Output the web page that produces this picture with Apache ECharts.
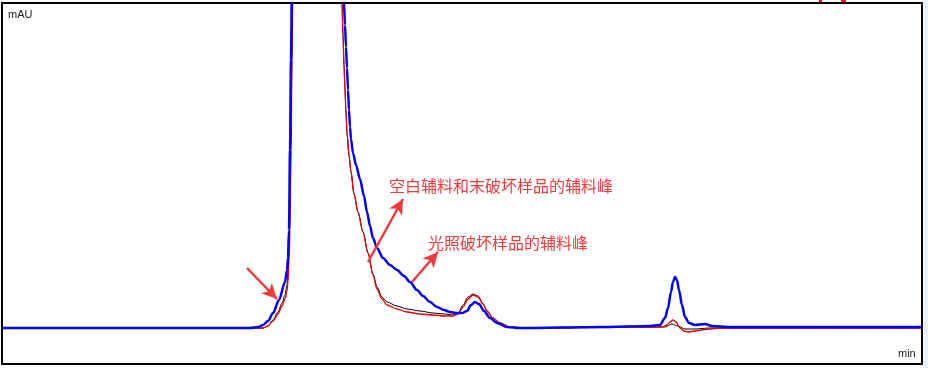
<!DOCTYPE html>
<html>
<head>
<meta charset="utf-8">
<style>
  html, body { margin: 0; padding: 0; background: #ffffff; }
  #chart { width: 928px; height: 368px; }
</style>
<script src="https://cdn.jsdelivr.net/npm/echarts@6/dist/echarts.min.js"></script>
</head>
<body>
<div id="chart"></div>
<script>
// Time (min) / absorbance (mAU) pairs
const blackTrace = [
  [0, 0], [2.48, 0], [2.61, 0], [2.66, 2], [2.71, 8], [2.76, 16], [2.80, 25], [2.83, 33],
  [2.85, 43], [2.86, 56], [2.87, 78], [2.88, 118], [2.89, 188], [2.90, 278], [2.91, 360],
  [2.95, 720], [3.05, 1500], [3.16, 1850], [3.30, 1200], [3.38, 500], [3.40, 325],
  [3.41, 293], [3.42, 263], [3.43, 238], [3.44, 215], [3.45, 195], [3.47, 173], [3.49, 156],
  [3.52, 134], [3.56, 116], [3.61, 96], [3.66, 75], [3.71, 54], [3.75, 41], [3.80, 31],
  [3.85, 26], [3.95, 22], [4.05, 19], [4.18, 17], [4.31, 15], [4.43, 14], [4.51, 13],
  [4.56, 15], [4.61, 23], [4.66, 31], [4.71, 34], [4.76, 32], [4.81, 24], [4.85, 17],
  [4.91, 10], [4.98, 5], [5.08, 1], [5.18, 0], [6.48, 1], [6.63, 1], [6.70, 4], [6.76, 2],
  [6.83, -1], [6.93, -1], [7.08, 0], [9.20, 0]
];
const redTrace = [
  [0, 0], [2.53, 0], [2.61, 0], [2.66, 2], [2.71, 7], [2.76, 14], [2.80, 22], [2.83, 29],
  [2.85, 37], [2.86, 46], [2.87, 66], [2.88, 98], [2.89, 178], [2.90, 268], [2.91, 348],
  [2.95, 700], [3.05, 1500], [3.16, 1850], [3.30, 1200], [3.38, 500], [3.40, 325],
  [3.41, 293], [3.42, 263], [3.43, 238], [3.44, 215], [3.45, 195], [3.47, 173], [3.49, 156],
  [3.52, 134], [3.56, 116], [3.61, 96], [3.66, 75], [3.71, 53], [3.75, 39], [3.80, 29],
  [3.85, 23], [3.95, 19], [4.05, 16], [4.18, 14], [4.31, 13], [4.43, 12], [4.51, 12],
  [4.56, 14], [4.61, 21], [4.66, 29], [4.71, 33], [4.76, 31], [4.81, 24], [4.85, 17],
  [4.91, 10], [4.98, 5], [5.08, 1], [5.18, 0], [6.48, 1], [6.60, 1], [6.65, 3], [6.68, 6],
  [6.71, 8], [6.74, 6], [6.78, 0], [6.82, -3], [6.86, -4], [6.93, -3], [7.03, -1.5],
  [7.18, 0], [9.20, 0]
];
const blueTrace = [
  [0, 0], [2.48, 0], [2.56, 1], [2.61, 3], [2.66, 7], [2.71, 15], [2.77, 28], [2.83, 46],
  [2.85, 58], [2.86, 70], [2.87, 98], [2.88, 178], [2.89, 268], [2.90, 348], [2.93, 628],
  [3.03, 1400], [3.16, 1800], [3.30, 1200], [3.38, 600], [3.41, 368], [3.42, 325],
  [3.43, 303], [3.44, 281], [3.45, 260], [3.46, 238], [3.47, 218], [3.48, 201], [3.49, 189],
  [3.51, 175], [3.54, 163], [3.58, 149], [3.62, 132], [3.65, 116], [3.68, 102], [3.71, 90],
  [3.75, 80], [3.81, 70], [3.88, 63], [3.95, 58], [4.02, 52], [4.08, 46], [4.15, 38],
  [4.21, 32], [4.28, 26], [4.35, 21], [4.42, 18], [4.48, 16], [4.54, 15], [4.60, 15],
  [4.65, 17], [4.69, 23], [4.73, 26], [4.77, 24], [4.82, 17], [4.88, 10], [4.95, 5],
  [5.05, 1], [5.18, 0], [5.98, 1], [6.48, 2], [6.58, 3], [6.63, 10], [6.66, 20], [6.69, 36],
  [6.71, 46], [6.73, 51], [6.75, 48], [6.77, 38], [6.80, 23], [6.83, 11], [6.87, 5],
  [6.93, 3], [7.03, 4], [7.10, 2], [7.28, 1], [9.20, 1]
];
// Annotation arrows: [startTime, startValue, endTime, endValue]
const arrows = [
  [2.45, 60, 2.75, 29],
  [3.66, 66, 4.01, 129],
  [4.10, 46, 4.36, 76]
];
const labels = ['空白辅料和末破坏样品的辅料峰', '光照破坏样品的辅料峰'];
const axisNames = ['mAU', 'min'];

const arrowColor = '#f23a3a';
const chart = echarts.init(document.getElementById('chart'), null, { renderer: 'canvas' });

chart.setOption({
  animation: false,
  backgroundColor: '#ffffff',
  grid: {
    left: 2, right: 6, top: 3, bottom: 4,
    show: true, borderColor: '#000000', borderWidth: 2, backgroundColor: '#ffffff'
  },
  xAxis: {
    type: 'value', min: 0, max: 9.2,
    axisLine: { show: false }, axisTick: { show: false },
    axisLabel: { show: false }, splitLine: { show: false }
  },
  yAxis: {
    type: 'value', min: -36, max: 325,
    axisLine: { show: false }, axisTick: { show: false },
    axisLabel: { show: false }, splitLine: { show: false }
  },
  series: [
    {
      type: 'line', data: blackTrace, showSymbol: false, smooth: 0.3, smoothMonotone: 'x',
      lineStyle: { color: '#000000', width: 1 }, silent: true
    },
    {
      type: 'line', data: redTrace, showSymbol: false, smooth: 0.3, smoothMonotone: 'x',
      lineStyle: { color: '#e80000', width: 1.3 }, silent: true
    },
    {
      type: 'line', data: blueTrace, showSymbol: false, smooth: 0.3, smoothMonotone: 'x',
      lineStyle: { color: '#0000ff', width: 2.5 }, silent: true, z: 3,
      markLine: {
        silent: true,
        animation: false,
        symbol: ['none', 'arrow'],
        symbolSize: [11, 15],
        label: { show: false },
        lineStyle: { color: arrowColor, width: 2.5, type: 'solid' },
        emphasis: { disabled: true },
        data: arrows.map(a => [{ coord: [a[0], a[1]] }, { coord: [a[2], a[3]] }])
      }
    }
  ],
  graphic: [
    { type: 'rect', left: 924, top: 0, shape: { width: 4, height: 368 }, style: { fill: '#e9effb' }, silent: true },
    { type: 'rect', left: 819, top: 0, shape: { width: 3, height: 2 }, style: { fill: '#ee1111' }, silent: true },
    { type: 'rect', left: 841, top: 0, shape: { width: 5, height: 2 }, style: { fill: '#ee1111' }, silent: true },
    {
      type: 'text', x: 8, y: 15, silent: true,
      style: { text: axisNames[0], font: '11px "Liberation Sans", Arial, sans-serif', fill: '#222222', textVerticalAlign: 'middle' }
    },
    {
      type: 'text', x: 898, y: 354, silent: true,
      style: { text: axisNames[1], font: '11px "Liberation Sans", Arial, sans-serif', fill: '#222222', textVerticalAlign: 'middle' }
    },
    {
      type: 'text', x: 389, y: 186, silent: true,
      style: { text: labels[0], font: '16px "Noto Sans CJK SC", sans-serif', fill: '#f03c3c', textVerticalAlign: 'middle' }
    },
    {
      type: 'text', x: 428, y: 243, silent: true,
      style: { text: labels[1], font: '16px "Noto Sans CJK SC", sans-serif', fill: '#f03c3c', textVerticalAlign: 'middle' }
    }
  ]
});
</script>
</body>
</html>
